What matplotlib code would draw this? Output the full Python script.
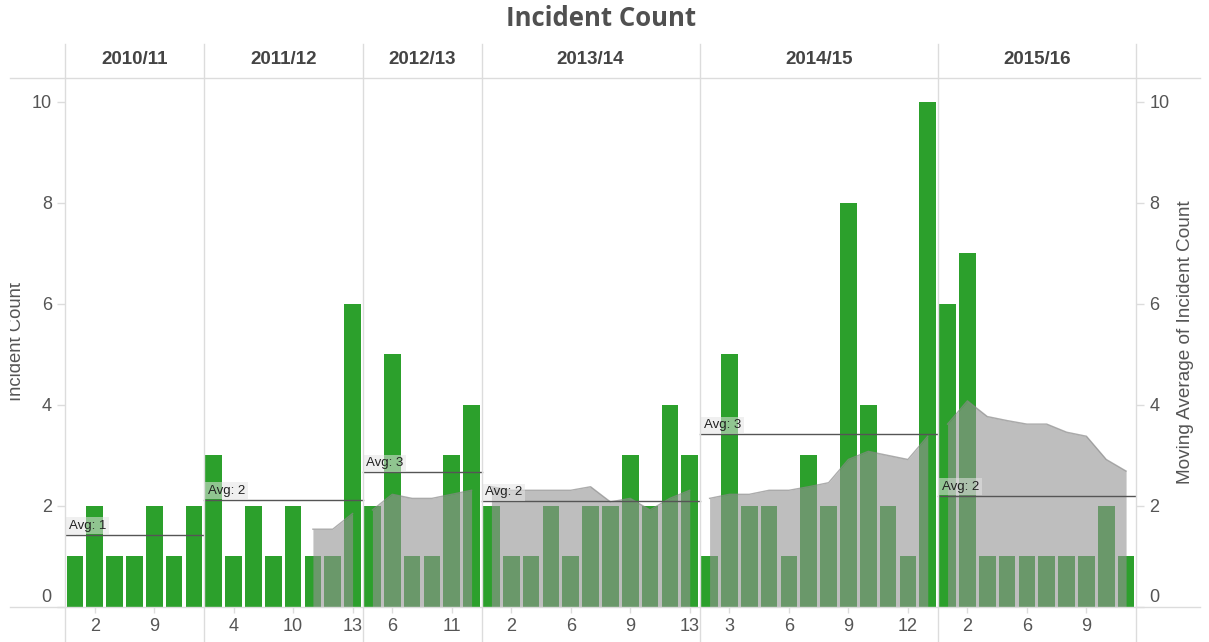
import matplotlib
matplotlib.use('Agg')
import matplotlib.pyplot as plt
from matplotlib.lines import Line2D
from matplotlib.transforms import blended_transform_factory, ScaledTranslation, Bbox

plt.rcParams['font.family'] = ['Liberation Sans', 'DejaVu Sans']

# fiscal years (one panel each)
years = ['2010/11', '2011/12', '2012/13', '2013/14', '2014/15', '2015/16']

# reporting periods present in each year
periods = [
    [1, 2, 4, 6, 9, 10, 12],
    [2, 4, 6, 8, 10, 11, 12, 13],
    [3, 6, 7, 9, 11, 12],
    [1, 2, 4, 5, 6, 7, 8, 9, 11, 12, 13],
    [2, 3, 4, 5, 6, 7, 8, 9, 10, 11, 12, 13],
    [1, 2, 3, 4, 6, 7, 8, 9, 10, 11],
]

# incident count per period
counts = [
    [1, 2, 1, 1, 2, 1, 2],
    [3, 1, 2, 1, 2, 1, 1, 6],
    [2, 5, 1, 1, 3, 4],
    [2, 1, 1, 2, 1, 2, 2, 3, 2, 4, 3],
    [1, 5, 2, 2, 1, 3, 2, 8, 4, 2, 1, 10],
    [6, 7, 1, 1, 1, 1, 1, 1, 2, 1],
]

# moving average of incident count (None = not shown)
moving_avg = [
    [None] * 7,
    [None, None, None, None, None, 1.54, 1.54, 1.85],
    [1.92, 2.23, 2.15, 2.15, 2.23, 2.31],
    [2.38, 2.31, 2.31, 2.31, 2.31, 2.38, 2.08, 2.15, 1.92, 2.15, 2.31],
    [2.15, 2.23, 2.23, 2.31, 2.31, 2.38, 2.46, 2.92, 3.08, 3.00, 2.92, 3.38],
    [3.62, 4.08, 3.77, 3.69, 3.62, 3.62, 3.46, 3.38, 2.92, 2.69],
]

W, H = 1209, 642
fig = plt.figure(figsize=(W / 100, H / 100), dpi=100)
ax = fig.add_axes([65 / W, 1 - 607 / H, (1136 - 65) / W, (607 - 78) / H])
ax2 = ax.twinx()

green = '#2ca02c'
grid_c = '#dcdcdc'
txt_c = '#555555'
trans = blended_transform_factory(ax.transData, fig.transFigure)

xticks, xlabels = [], []
start = 0
for k, yr in enumerate(years):
    n = len(counts[k])
    xs = list(range(start, start + n))
    ax.bar(xs, counts[k], width=0.84, color=green, zorder=2)

    # moving average area
    pts = [(x, v) for x, v in zip(xs, moving_avg[k]) if v is not None]
    if pts:
        px = [p[0] for p in pts]
        pv = [p[1] for p in pts]
        ax2.fill_between(px, 0, pv, color='#949494', alpha=0.6, lw=0, zorder=2)
        ax2.plot(px, pv, color='#8a8a8a', lw=1, alpha=0.7, zorder=3)

    # per-year average reference line
    avg = sum(counts[k]) / n
    ax2.plot([start - 0.5, start + n - 0.5], [avg, avg], color='#555555', lw=1, zorder=4)
    ax2.text(start - 0.3, avg + 0.06, 'Avg: %d' % round(avg), fontsize=9.5, color='#222222',
             ha='left', va='bottom', zorder=5,
             bbox=dict(boxstyle='square,pad=0.2', fc='#e4e4e4', ec='none', alpha=0.55))

    for i, p in enumerate(periods[k]):
        if i % 3 == 1:
            xticks.append(start + i)
            xlabels.append(str(p))

    # header label and separator
    fig.text(start + (n - 1) / 2, 1 - 60 / H, yr, transform=trans, fontsize=13.5,
             fontweight='bold', color='#444444', ha='center', va='center')
    if k > 0:
        fig.add_artist(Line2D([start - 0.5, start - 0.5], [0, 1 - 44 / H], transform=trans,
                              color=grid_c, lw=1))
    start += n

total = start
ax.set_xlim(-0.5, total - 0.5)
ymax = 10.47
ax.set_ylim(0, ymax)
ax2.set_ylim(0, ymax)
ax.set_xticks(xticks)
ax.set_xticklabels(xlabels)
ax.set_yticks([0, 2, 4, 6, 8, 10])
ax2.set_yticks([0, 2, 4, 6, 8, 10])

for a in (ax, ax2):
    for s in a.spines.values():
        s.set_visible(False)
    a.tick_params(axis='y', colors=grid_c, labelcolor=txt_c, labelsize=13, length=6, width=1)
ax.tick_params(axis='x', colors=grid_c, labelcolor=txt_c, labelsize=13, length=4, width=1, pad=4)
ax.patch.set_alpha(0)

# the 0 labels sit just above the baseline
for a in (ax, ax2):
    lab = a.get_yticklabels()[0]
    lab.set_transform(lab.get_transform() + ScaledTranslation(0, 0.12, fig.dpi_scale_trans))

# frame lines
ftr = fig.transFigure
for yy in (78, 606.5):
    fig.add_artist(Line2D([10 / W, 1200 / W], [1 - yy / H, 1 - yy / H], transform=ftr, color=grid_c, lw=1))
for xx in (65, 1136):
    fig.add_artist(Line2D([xx / W, xx / W], [0, 1 - 44 / H], transform=ftr, color=grid_c, lw=1))

fig.text(601 / W, 1 - 19 / H, 'Incident Count', fontsize=18.5, fontweight='bold',
         family=['Open Sans', 'DejaVu Sans'], color='#505050', ha='center', va='center')

ylab = fig.text(8 / W, 1 - 342 / H, 'Incident Count', rotation=90, fontsize=13.3, color=txt_c,
                ha='left', va='center')
ylab.set_clip_on(True)
ylab.set_clip_box(Bbox.from_extents(10, 0, W, H))
fig.text(1186 / W, 1 - 342 / H, 'Moving Average of Incident Count', rotation=90, fontsize=13.7,
         color=txt_c, ha='center', va='center')

fig.savefig('out.png', dpi=100)
